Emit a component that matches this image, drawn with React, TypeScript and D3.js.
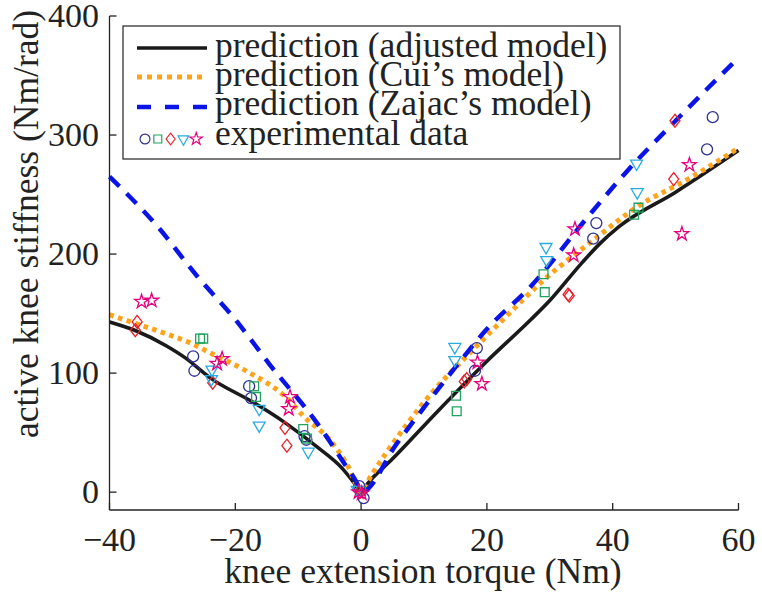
import * as d3 from 'd3';

// model curves: [torque (Nm), stiffness (Nm/rad)]
const adjustedModel: [number, number][] = [
  [-40, 143], [-36, 136], [-31, 123], [-28, 113], [-24, 96], [-17, 75], [-12, 58],
  [-7, 38], [-3, 20], [-1, 7], [0, 0], [1, 7], [5, 28], [12, 67], [20, 110],
  [27, 145], [30, 161], [35, 192], [38, 209], [41, 223], [50, 252], [60, 287],
];
const cuiModel: [number, number][] = [
  [-40, 149], [-36, 142], [-31, 133], [-27, 125], [-24, 117], [-18, 101], [-12, 80],
  [-9, 63], [-5, 44], [-2, 21], [0, 0], [1.5, 13], [7, 55], [12.5, 91], [16, 110],
  [22, 142], [29, 178], [37, 212], [44, 240], [52, 263], [60, 289],
];
const zajacModel: [number, number][] = [
  [-40, 265], [-32.5, 224], [-26, 181], [-20, 145], [-14.5, 107], [-7, 58],
  [-2.3, 21], [-0.7, 8], [0, 0], [5.7, 41], [15, 105], [20, 137], [27, 173],
  [36, 231], [42, 268], [50, 312], [60, 365],
];

// experimental data, one array per marker
const circles: [number, number][] = [
  [-26.7, 114], [-26.5, 102], [-17.8, 89], [-17.5, 79], [-9, 47], [-8.7, 44],
  [-0.3, 5], [0.4, -5], [18.4, 121], [18.1, 102], [37.4, 226], [36.9, 213],
  [55.9, 315], [55, 288],
];
const squares: [number, number][] = [
  [-25.6, 129], [-25.1, 129], [-17, 89], [-16.7, 80], [-9.2, 53], [-8.6, 45],
  [0, 1], [15.1, 81], [15.2, 68], [29, 183], [29.2, 168], [43.4, 233], [44.1, 239],
];
const diamonds: [number, number][] = [
  [-35.6, 143], [-35.9, 136], [-23.6, 92], [-12.1, 54], [-11.8, 39], [-0.2, 0],
  [16.4, 93], [16.8, 95], [32.9, 166], [33.1, 165], [49.9, 312], [49.7, 263],
];
const triangles: [number, number][] = [
  [-23.7, 103], [-23.8, 95], [-16.2, 70], [-16.2, 56], [-8.4, 34], [-0.6, 2],
  [14.9, 122], [14.9, 111], [29.4, 206], [29.5, 195], [43.8, 276], [43.9, 252],
];
const stars: [number, number][] = [
  [-34.9, 160], [-33.3, 161], [-22.1, 112], [-22.9, 108], [-11.3, 80], [-11.5, 70],
  [-0.4, 0], [0.1, -1], [18.5, 109], [19.2, 91], [34, 221], [33.8, 199],
  [52.2, 275], [51, 217],
];

const xTicks = [-40, -20, 0, 20, 40, 60];
const yTicks = [0, 100, 200, 300, 400];
const legendLabels = [
  'prediction (adjusted model)',
  'prediction (Cui\u2019s model)',
  'prediction (Zajac\u2019s model)',
  'experimental data',
];

const W = 762;
const H = 596;
const FONT = '"Liberation Serif", "Times New Roman", "Tinos"';

const C_BLACK = '#1a1a1a';
const C_ORANGE = '#FFA31A';
const C_BLUE = '#0A14E6';
const C_CIRCLE = '#2E3192';
const C_SQUARE = '#1FA35F';
const C_DIAMOND = '#E8222C';
const C_TRI = '#29ABE2';
const C_STAR = '#E6007E';

const x = d3.scaleLinear().domain([-40, 60]).range([109.5, 738.5]);
const y = d3.scaleLinear().domain([-15, 400]).range([510, 16]);

const line = d3.line<[number, number]>()
  .x(d => x(d[0]))
  .y(d => y(d[1]))
  .curve(d3.curveMonotoneX);

const circlePath = d3.symbol(d3.symbolCircle, 95)()!;
const squarePath = d3.symbol(d3.symbolSquare, 78)()!;
const triPath = d3.symbol(d3.symbolTriangle, 62)()!;
const starPath = d3.symbol(d3.symbolStar, 60)()!;
const diamondPath = 'M0,-6.5L5,0L0,6.5L-5,0Z';

const markerSets = [
  { data: circles, path: circlePath, color: C_CIRCLE, rot: 0 },
  { data: squares, path: squarePath, color: C_SQUARE, rot: 0 },
  { data: diamonds, path: diamondPath, color: C_DIAMOND, rot: 0 },
  { data: triangles, path: triPath, color: C_TRI, rot: 180 },
  { data: stars, path: starPath, color: C_STAR, rot: 0 },
];

// small wrapper so every label gets the font both ways
const T = (props: any) => (
  <text fill="#222" fontFamily={FONT} {...props} style={{ fontFamily: FONT }} />
);

export default function App() {
  const x0 = x(-40);
  const y0 = y(-15);
  const legendRows = [57, 86, 115, 145];
  return (
    <svg width={W} height={H} fontFamily={FONT}
      style={{ position: 'absolute', left: 0, top: 0, background: '#fff', fontFamily: FONT }}>
      <style>{`text { font-family: ${FONT} !important; }`}</style>
      <rect width={W} height={H} fill="#fff" />

      {/* model curves */}
      <path d={line(adjustedModel)!} fill="none" stroke={C_BLACK} strokeWidth={3.6} />
      <path d={line(cuiModel)!} fill="none" stroke={C_ORANGE} strokeWidth={5} strokeDasharray="4.5 4.5" />
      <path d={line(zajacModel)!} fill="none" stroke={C_BLUE} strokeWidth={4.5} strokeDasharray="14 10" />

      {/* experimental data */}
      {markerSets.map((s, i) => (
        <g key={i}>
          {s.data.map((d, j) => (
            <path key={j} d={s.path} fill="none" stroke={s.color} strokeWidth={1.3}
              transform={`translate(${x(d[0])},${y(d[1])}) rotate(${s.rot})`} />
          ))}
        </g>
      ))}

      {/* axes */}
      <line x1={x0} x2={x0} y1={y(400)} y2={y0} stroke="#222" strokeWidth={1.3} />
      <line x1={x0} x2={x(60)} y1={y0} y2={y0} stroke="#222" strokeWidth={1.3} />
      {yTicks.map(t => (
        <g key={t}>
          <line x1={x0} x2={x0 + 7} y1={y(t)} y2={y(t)} stroke="#222" strokeWidth={1.3} />
          <T x={99} y={y(t) + 11} textAnchor="end" fontSize={34}>{t}</T>
        </g>
      ))}
      {xTicks.map(t => (
        <g key={t}>
          <line x1={x(t)} x2={x(t)} y1={y0} y2={y0 - 7} stroke="#222" strokeWidth={1.3} />
          <T x={x(t)} y={551} textAnchor="middle" fontSize={34}>
            {t < 0 ? `\u2212${-t}` : t}
          </T>
        </g>
      ))}
      <T x={423} y={583} textAnchor="middle" fontSize={35.5}>knee extension torque (Nm)</T>
      <T transform="translate(38,224) rotate(-90)" textAnchor="middle" fontSize={35.5}>
        active knee stiffness (Nm/rad)
      </T>

      {/* legend */}
      <rect x={123} y={26} width={497} height={133} fill="#fff" stroke="#333" strokeWidth={1.3} />
      <line x1={137} x2={207} y1={48} y2={48} stroke={C_BLACK} strokeWidth={3.6} />
      <line x1={137} x2={207} y1={77} y2={77} stroke={C_ORANGE} strokeWidth={5} strokeDasharray="5 5" />
      <line x1={137} x2={207} y1={107} y2={107} stroke={C_BLUE} strokeWidth={4.5} strokeDasharray="14 14" />
      {markerSets.map((s, i) => (
        <path key={i} d={s.path} fill="none" stroke={s.color} strokeWidth={1.3}
          transform={`translate(${145 + i * 12.8},${139}) rotate(${s.rot}) scale(0.9)`} />
      ))}
      {legendLabels.map((l, i) => (
        <T key={i} x={215} y={legendRows[i]} fontSize={35.5}>{l}</T>
      ))}
    </svg>
  );
}
